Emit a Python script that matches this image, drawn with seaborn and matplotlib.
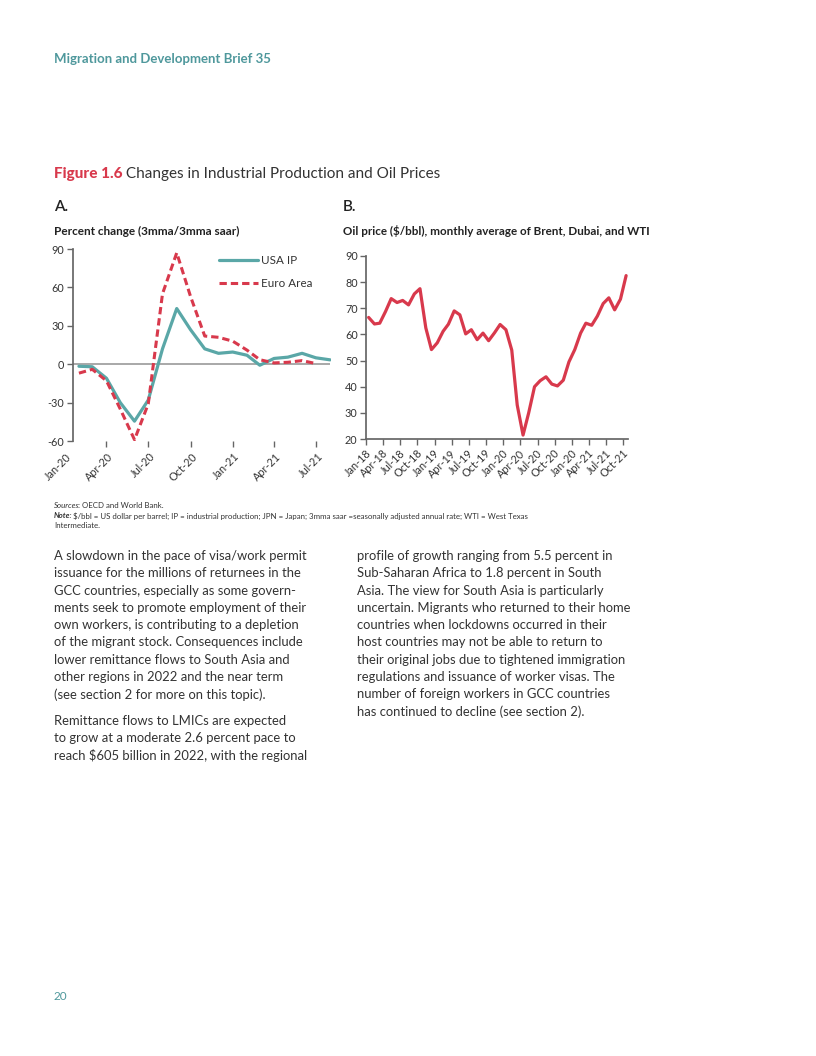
"""Page 20 of Migration and Development Brief 35: Figure 1.6.

Usage: python plot.py  ->  out.png
"""

import matplotlib
matplotlib.use("Agg")
import matplotlib.dates as mdates
import matplotlib.pyplot as plt
import matplotlib.transforms as mtransforms
import pandas as pd
import seaborn as sns

# ---- data ---------------------------------------------------------------
# Panel A: industrial production, percent change (3mma/3mma saar)
ip_months = pd.date_range("2020-02-01", "2021-08-01", freq="MS")
usa_ip = [-1.6, -2.0, -11.0, -30.0, -44.5, -28.0, 12.0, 43.5, 27.0, 12.0,
          8.5, 9.5, 7.0, -0.8, 4.5, 5.5, 8.5, 5.0, 3.4]
euro_ip = [-7.0, -4.0, -13.0, -35.0, -59.0, -31.0, 55.0, 87.0, 53.0, 22.0,
           21.0, 18.0, 11.0, 3.5, 1.0, 1.5, 2.8, 0.5]          # Feb-20 .. Jul-21
ip_tick_dates = pd.date_range("2020-01-01", "2021-07-01", freq="QS")
ip_tick_labels = ["Jan-20", "Apr-20", "Jul-20", "Oct-20", "Jan-21", "Apr-21", "Jul-21"]
ip_yticks = [-60, -30, 0, 30, 60, 90]

# Panel B: oil price, monthly average of Brent, Dubai and WTI ($/bbl)
oil_months = pd.date_range("2018-01-01", "2021-10-01", freq="MS") + pd.Timedelta(days=14)
oil_price = [66.5, 64.0, 64.3, 68.8, 73.7, 72.2, 73.0, 71.3, 75.5, 77.5, 62.5, 54.2,
             56.8, 61.2, 63.9, 69.0, 67.5, 60.2, 61.8, 58.0, 60.5, 57.6, 60.6, 63.8,
             61.8, 54.0, 33.0, 21.5, 30.0, 40.0, 42.3, 43.8, 41.0, 40.3, 42.5, 49.5,
             54.2, 60.5, 64.3, 63.5, 67.0, 71.8, 74.0, 69.4, 73.5, 82.5]
oil_tick_dates = pd.date_range("2018-01-01", "2021-10-01", freq="QS")
oil_tick_labels = ["Jan-18", "Apr-18", "Jul-18", "Oct-18", "Jan-19", "Apr-19",
                   "Jul-19", "Oct-19", "Jan-20", "Apr-20", "Jul-20", "Oct-20",
                   "Jan-20", "Apr-21", "Jul-21", "Oct-21"]
oil_yticks = [20, 30, 40, 50, 60, 70, 80, 90]

header = "Migration and Development Brief 35"
fig_number = "Figure 1.6"
fig_title = "Changes in Industrial Production and Oil Prices"
panel_a_label = "Percent change (3mma/3mma saar)"
panel_b_label = "Oil price ($/bbl), monthly average of Brent, Dubai, and WTI"
note_text = ("$/bbl = US dollar per barrel; IP = industrial production; JPN = Japan; "
             "3mma saar =seasonally adjusted annual rate; WTI = West Texas")

left_par1 = [
    "A slowdown in the pace of visa/work permit",
    "issuance for the millions of returnees in the",
    "GCC countries, especially as some govern-",
    "ments seek to promote employment of their",
    "own workers, is contributing to a depletion",
    "of the migrant stock. Consequences include",
    "lower remittance flows to South Asia and",
    "other regions in 2022 and the near term",
    "(see section 2 for more on this topic).",
]
left_par2 = [
    "Remittance flows to LMICs are expected",
    "to grow at a moderate 2.6 percent pace to",
    "reach $605 billion in 2022, with the regional",
]
right_par = [
    "profile of growth ranging from 5.5 percent in",
    "Sub-Saharan Africa to 1.8 percent in South",
    "Asia. The view for South Asia is particularly",
    "uncertain. Migrants who returned to their home",
    "countries when lockdowns occurred in their",
    "host countries may not be able to return to",
    "their original jobs due to tightened immigration",
    "regulations and issuance of worker visas. The",
    "number of foreign workers in GCC countries",
    "has continued to decline (see section 2).",
]

TEAL = "#5aa7a7"
RED = "#d8394c"
TEXT = "#333333"
HEAD = "#4f989c"
W, H = 816, 1056


def fig_box(left, top, right, bottom):
    return [left / W, 1 - bottom / H, (right - left) / W, (bottom - top) / H]


def shift_labels(ax, fig, dx_px, dy_px):
    off = mtransforms.ScaledTranslation(dx_px / 100, -dy_px / 100, fig.dpi_scale_trans)
    for lab in ax.get_xticklabels():
        lab.set_transform(lab.get_transform() + off)


def main() -> None:
    sns.set_theme(style="ticks")
    plt.rcParams["font.family"] = ["Lato", "DejaVu Sans"]
    plt.rcParams["axes.unicode_minus"] = False

    fig = plt.figure(figsize=(W / 100, H / 100), dpi=100)
    page = fig.add_axes([0, 0, 1, 1])
    page.set_xlim(0, W)
    page.set_ylim(H, 0)
    page.axis("off")

    # header, title, panel labels
    page.text(54, 59, header, color=HEAD, fontsize=9.5, fontweight="bold", va="center")
    t1 = page.text(54, 174, fig_number, color=RED, fontsize=11, fontweight="black",
                   va="center")
    page.annotate(" " + fig_title, xy=(1, 0), xycoords=t1, va="bottom",
                  color=TEXT, fontsize=11)
    page.text(54, 207, "A.", color="#222", fontsize=11, fontweight="semibold", va="center")
    page.text(343, 207, "B.", color="#222", fontsize=11, fontweight="semibold", va="center")
    page.text(54, 231, panel_a_label, color="#222", fontsize=8.5, fontweight="bold",
              va="center")
    page.text(343, 231, panel_b_label, color="#222", fontsize=8.4, fontweight="bold",
              va="center")

    # ---- panel A ----
    ax = fig.add_axes(fig_box(64.7, 249, 331, 441))
    ip = pd.DataFrame({"month": ip_months, "usa": usa_ip,
                       "euro": euro_ip + [float("nan")]})
    ax.hlines(0, pd.Timestamp("2020-01-18"), ip_months[-1], color="#9a9a9a", lw=1.2)
    sns.lineplot(data=ip, x="month", y="usa", ax=ax, color=TEAL, lw=2.3,
                 label="USA IP")
    sns.lineplot(data=ip.dropna(), x="month", y="euro", ax=ax, color=RED, lw=2.2,
                 linestyle=(0, (2.4, 1.3)), label="Euro Area")
    ax.set_xlim(pd.Timestamp("2020-01-01"), pd.Timestamp("2021-08-03"))
    ax.set_ylim(-60, 90)
    ax.set_yticks(ip_yticks)
    ax.set_xticks(ip_tick_dates)
    ax.set_xticklabels(ip_tick_labels, rotation=45, ha="right", va="center",
                       rotation_mode="anchor")
    ax.set_xlabel("")
    ax.set_ylabel("")
    for side in ["top", "right", "bottom"]:
        ax.spines[side].set_visible(False)
    ax.spines["left"].set_position(("data", mdates.date2num(pd.Timestamp("2020-01-18"))))
    ax.spines["left"].set_color("#666")
    ax.tick_params(axis="both", direction="out", length=4, width=1, color="#666",
                   labelsize=7.8, labelcolor=TEXT, pad=2)
    ax.tick_params(axis="x", pad=6)
    ax.xaxis.get_major_ticks()[0].tick1line.set_visible(False)
    shift_labels(ax, fig, 5, 0)
    ax.legend(loc="upper left", bbox_to_anchor=(219 / W, 1 - 255 / H),
              bbox_transform=fig.transFigure, frameon=False, fontsize=8.4,
              handlelength=3.3, handletextpad=0.3, labelspacing=1.0,
              borderpad=0, borderaxespad=0, labelcolor=TEXT)
    ax.patch.set_alpha(0)

    # ---- panel B ----
    bx = fig.add_axes(fig_box(366, 256, 628, 439))
    oil = pd.DataFrame({"month": oil_months, "price": oil_price})
    sns.lineplot(data=oil, x="month", y="price", ax=bx, color=RED, lw=2.3)
    bx.set_xlim(pd.Timestamp("2018-01-01"), pd.Timestamp("2021-10-25"))
    bx.set_ylim(20, 90)
    bx.set_yticks(oil_yticks)
    bx.set_xticks(oil_tick_dates)
    bx.set_xticklabels(oil_tick_labels, rotation=45, ha="right", va="center",
                       rotation_mode="anchor")
    bx.set_xlabel("")
    bx.set_ylabel("")
    for side in ["top", "right"]:
        bx.spines[side].set_visible(False)
    for side in ["left", "bottom"]:
        bx.spines[side].set_color("#666")
    bx.tick_params(axis="both", direction="out", length=4, width=1, color="#666",
                   labelsize=7.8, labelcolor=TEXT, pad=2)
    bx.tick_params(axis="x", pad=5)
    shift_labels(bx, fig, 3, 0)
    bx.patch.set_alpha(0)

    # ---- sources and note ----
    s1 = page.text(54, 506, "Sources", fontsize=5.7, style="italic", color=TEXT, va="center")
    page.annotate(": OECD and World Bank.", xy=(1, 0), xycoords=s1, va="bottom",
                  xytext=(-1.2, 0), textcoords="offset points", fontsize=5.7, color=TEXT)
    n1 = page.text(54, 516, "Note:", fontsize=5.7, style="italic", fontweight="bold",
                   color=TEXT, va="center")
    page.annotate(" " + note_text, xy=(1, 0), xycoords=n1, va="bottom",
                  xytext=(-1.0, 0), textcoords="offset points", fontsize=5.7, color=TEXT)
    page.text(54, 526, "Intermediate.", fontsize=5.7, color=TEXT, va="center")

    # ---- body text ----
    step = 17.3
    for i, line in enumerate(left_par1):
        page.text(54, 556 + i * step, line, fontsize=9.4, color=TEXT, va="center")
    for i, line in enumerate(left_par2):
        page.text(54, 721 + i * step, line, fontsize=9.4, color=TEXT, va="center")
    for i, line in enumerate(right_par):
        page.text(357, 556 + i * step, line, fontsize=9.4, color=TEXT, va="center")

    page.text(54, 996, "20", color=HEAD, fontsize=8.5, va="center")

    fig.savefig("out.png", dpi=100)
    plt.close(fig)


if __name__ == "__main__":
    main()
